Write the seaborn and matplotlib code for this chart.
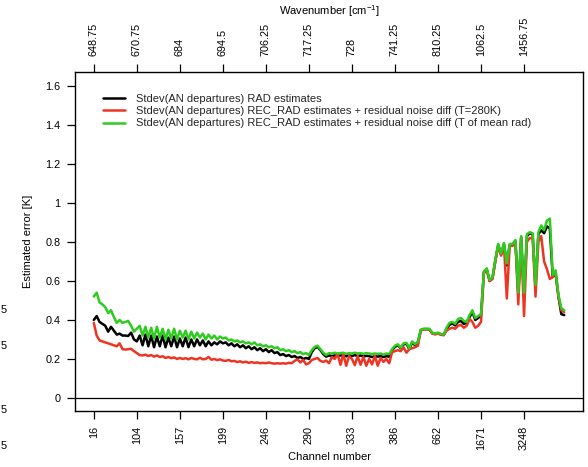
import matplotlib
matplotlib.use("Agg")
import matplotlib.pyplot as plt
import seaborn as sns
import pandas as pd

# Channel labels (bottom axis) and wavenumbers (top axis), every 15th channel
channel_labels = ["16", "104", "157", "199", "246", "290", "333", "386", "662", "1671", "3248"]
wavenumber_labels = ["648.75", "670.75", "684", "694.5", "706.25", "717.25", "728",
                     "741.25", "810.25", "1062.5", "1456.75"]
tick_step = 15

# Estimated error [K] per channel index
rad_black = [
    0.40, 0.42, 0.39, 0.38, 0.37, 0.34, 0.365, 0.345, 0.325, 0.33, 0.32, 0.32, 0.318, 0.335, 0.30, 0.29,
    0.32, 0.27, 0.325, 0.265, 0.32, 0.26, 0.315, 0.265, 0.32, 0.26, 0.31, 0.265, 0.315, 0.26, 0.305,
    0.265, 0.31, 0.26, 0.30, 0.265, 0.30, 0.27, 0.295, 0.265, 0.29, 0.27, 0.285, 0.275, 0.29, 0.28,
    0.285, 0.27, 0.28, 0.265, 0.275, 0.26, 0.27, 0.255, 0.265, 0.25, 0.26, 0.245, 0.255, 0.24, 0.25,
    0.235, 0.245, 0.23, 0.235, 0.22, 0.225, 0.215, 0.22, 0.21, 0.215, 0.205, 0.21, 0.20, 0.205, 0.20,
    0.235, 0.255, 0.262, 0.245, 0.225, 0.212, 0.218, 0.215, 0.218, 0.215, 0.218, 0.218, 0.214, 0.218,
    0.215, 0.22, 0.215, 0.218, 0.212, 0.216, 0.214, 0.21, 0.214, 0.212, 0.215, 0.21, 0.214, 0.212,
    0.245, 0.262, 0.27, 0.255, 0.275, 0.278, 0.25, 0.285, 0.27, 0.285, 0.348, 0.353, 0.353, 0.352,
    0.332, 0.328, 0.332, 0.326, 0.323, 0.355, 0.375, 0.382, 0.372, 0.39, 0.395, 0.38, 0.385, 0.415,
    0.44, 0.40, 0.41, 0.425,
    0.645, 0.66, 0.60, 0.615, 0.705, 0.785, 0.735, 0.79, 0.68, 0.785, 0.785, 0.805, 0.53, 0.825, 0.52,
    0.83, 0.845, 0.84, 0.57, 0.84, 0.86, 0.845, 0.88, 0.87, 0.62, 0.64, 0.52, 0.43, 0.425,
]
rec_red = [
    0.385, 0.32, 0.295, 0.29, 0.285, 0.28, 0.275, 0.27, 0.265, 0.28, 0.25, 0.248, 0.25, 0.252, 0.24, 0.23,
    0.22, 0.218, 0.222, 0.215, 0.22, 0.212, 0.218, 0.21, 0.214, 0.205, 0.21, 0.204, 0.208, 0.20, 0.205,
    0.20, 0.204, 0.198, 0.205, 0.20, 0.198, 0.206, 0.198, 0.20, 0.21, 0.196, 0.20, 0.194, 0.198, 0.192,
    0.19, 0.195, 0.188, 0.19, 0.184, 0.188, 0.182, 0.186, 0.18, 0.184, 0.18, 0.182, 0.178, 0.18, 0.178,
    0.182, 0.178, 0.176, 0.178, 0.176, 0.178, 0.176, 0.18, 0.178, 0.19, 0.198, 0.182, 0.195, 0.172, 0.178,
    0.195, 0.20, 0.205, 0.19, 0.185, 0.192, 0.178, 0.21, 0.20, 0.225, 0.17, 0.225, 0.165, 0.215,
    0.20, 0.168, 0.215, 0.17, 0.21, 0.165, 0.20, 0.172, 0.215, 0.165, 0.205, 0.185, 0.20, 0.178,
    0.235, 0.24, 0.245, 0.24, 0.26, 0.232, 0.25, 0.255, 0.26, 0.268, 0.345, 0.352, 0.352, 0.35,
    0.33, 0.326, 0.33, 0.324, 0.322, 0.345, 0.355, 0.36, 0.355, 0.37, 0.375, 0.36, 0.37, 0.405,
    0.39, 0.36, 0.37, 0.39,
    0.64, 0.655, 0.60, 0.61, 0.70, 0.78, 0.73, 0.785, 0.51, 0.78, 0.78, 0.80, 0.48, 0.82, 0.42,
    0.80, 0.82, 0.82, 0.52, 0.80, 0.83, 0.70, 0.66, 0.61, 0.62, 0.645, 0.52, 0.45, 0.44,
]
rec_green = [
    0.52, 0.54, 0.49, 0.48, 0.465, 0.435, 0.45, 0.415, 0.385, 0.40, 0.385, 0.39, 0.395, 0.37, 0.34, 0.355,
    0.37, 0.32, 0.365, 0.31, 0.36, 0.305, 0.365, 0.31, 0.355, 0.30, 0.35, 0.305, 0.355, 0.30, 0.345,
    0.31, 0.345, 0.30, 0.34, 0.305, 0.335, 0.31, 0.33, 0.30, 0.325, 0.305, 0.32, 0.30, 0.315, 0.305,
    0.31, 0.295, 0.30, 0.29, 0.295, 0.285, 0.29, 0.28, 0.285, 0.275, 0.285, 0.27, 0.275, 0.265, 0.27,
    0.26, 0.265, 0.255, 0.26, 0.245, 0.25, 0.24, 0.245, 0.235, 0.24, 0.23, 0.235, 0.225, 0.23, 0.22,
    0.245, 0.262, 0.268, 0.25, 0.232, 0.22, 0.23, 0.228, 0.232, 0.228, 0.23, 0.232, 0.226, 0.23,
    0.228, 0.232, 0.228, 0.23, 0.226, 0.23, 0.228, 0.225, 0.228, 0.226, 0.228, 0.222, 0.228, 0.225,
    0.25, 0.268, 0.275, 0.258, 0.28, 0.283, 0.255, 0.29, 0.275, 0.29, 0.35, 0.355, 0.355, 0.355,
    0.335, 0.33, 0.335, 0.328, 0.325, 0.36, 0.385, 0.39, 0.38, 0.405, 0.41, 0.395, 0.39, 0.425,
    0.45, 0.41, 0.42, 0.43,
    0.65, 0.665, 0.605, 0.62, 0.71, 0.79, 0.74, 0.795, 0.69, 0.79, 0.79, 0.81, 0.54, 0.83, 0.54,
    0.84, 0.85, 0.845, 0.58, 0.85, 0.885, 0.86, 0.91, 0.92, 0.63, 0.655, 0.53, 0.46, 0.45,
]

series_names = [
    "Stdev(AN departures) RAD estimates",
    "Stdev(AN departures) REC_RAD estimates + residual noise diff (T=280K)",
    "Stdev(AN departures) REC_RAD estimates + residual noise diff (T of mean rad)",
]
series_colors = ["#000000", "#EE3524", "#2ECC1E"]

frames = []
for name, values in zip(series_names, [rad_black, rec_red, rec_green]):
    frames.append(pd.DataFrame({"channel": range(len(values)), "error": values, "series": name}))
df = pd.concat(frames, ignore_index=True)

sns.set_theme(style="white")
plt.rcParams["font.family"] = ["Liberation Sans", "DejaVu Sans"]
plt.rcParams["mathtext.fontset"] = "custom"
plt.rcParams["mathtext.rm"] = "Liberation Sans"

W, H = 588, 467
fig = plt.figure(figsize=(W / 100, H / 100), dpi=100)
ax = fig.add_axes([75 / W, (H - 411) / H, 508 / W, 339 / H])

sns.lineplot(data=df, x="channel", y="error", hue="series", hue_order=series_names,
             palette=series_colors, linewidth=1.8, ax=ax, legend=False)
data_lines = list(ax.get_lines())[:3]

ax.axhline(0, color="black", linewidth=0.9)

n = len(rad_black)
pad = 0.04 * (n - 1)
ax.set_xlim(-pad, n - 1 + pad)
ax.set_ylim(-0.067, 1.672)

ticks = list(range(0, n, tick_step))[:len(channel_labels)]
ax.set_xticks(ticks)
ax.set_xticklabels(channel_labels, rotation=90)
yt = [0, 0.2, 0.4, 0.6, 0.8, 1.0, 1.2, 1.4, 1.6]
ax.set_yticks(yt)
ax.set_yticklabels(["0", "0.2", "0.4", "0.6", "0.8", "1", "1.2", "1.4", "1.6"])

for s in ax.spines.values():
    s.set_visible(True)
    s.set_color("black")
    s.set_linewidth(1.0)

ax.tick_params(axis="both", which="both", direction="out", length=5.5, width=0.9,
               color="black", labelcolor="black", labelsize=7.8, bottom=True, left=True, pad=5)

top = ax.secondary_xaxis("top")
top.set_xticks(ticks)
top.set_xticklabels(wavenumber_labels, rotation=90)
top.tick_params(direction="out", length=5.5, width=0.9, color="black",
                labelcolor="black", labelsize=7.8, pad=6)
top.spines["top"].set_visible(False)

ax.set_xlabel("Channel number", fontsize=8, color="black")
ax.xaxis.set_label_coords(0.5, -0.121)
ax.set_ylabel("Estimated error [K]", fontsize=8, color="black")
ax.yaxis.set_label_coords(-0.083, 0.5)
fig.text(329 / W, 1 - 11 / H, r"Wavenumber [cm$^{-1}$]", fontsize=8, color="black",
         ha="center", va="center")

leg = ax.legend(data_lines, series_names, loc="upper left", bbox_to_anchor=(0.055, 0.935),
                frameon=False, fontsize=8, handlelength=2.0, handletextpad=1.0,
                labelspacing=0.2, borderpad=0, borderaxespad=0)
for h in leg.get_lines():
    h.set_linewidth(1.8)

# Cut-off tick labels from the neighbouring panel at the left edge
for ypix in [310, 346, 410, 446]:
    fig.text(1 / W, 1 - ypix / H, "5", fontsize=8, ha="left", va="center", color="black")

fig.savefig("out.png", dpi=100)
